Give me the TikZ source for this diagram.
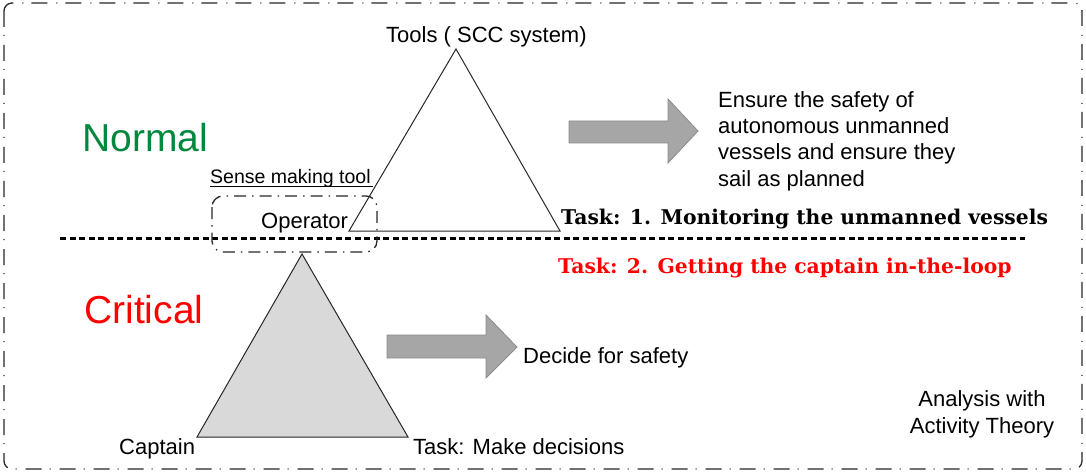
\documentclass[tikz,border=0pt]{standalone}
\usepackage{fontspec}
\setsansfont{Liberation Sans}
\newfontfamily\taskfont{DejaVu Serif}
\definecolor{normalgreen}{RGB}{0,136,62}
\definecolor{arrowfill}{RGB}{166,166,166}
\definecolor{arrowdraw}{RGB}{140,140,140}
\definecolor{trifill}{RGB}{217,217,217}
\tikzset{
  lbl/.style={inner sep=0pt, anchor=base west, font=\sffamily\fontsize{22}{26.4}\selectfont},
  bigword/.style={inner sep=0pt, anchor=base west, font=\sffamily\fontsize{39}{46}\selectfont},
  tasktxt/.style={inner sep=0pt, anchor=base west, font=\taskfont\bfseries\fontsize{20.3}{24}\selectfont},
  blockarrow/.style={fill=arrowfill, draw=arrowdraw, line width=0.8pt},
  tri/.style={draw=black!85, line width=1pt, line join=miter},
  frame/.style={draw=black!85, line width=1.3pt, dash pattern=on 16pt off 8pt on 1pt off 9pt, rounded corners=8pt},
  opbox/.style={draw=black!85, line width=1.3pt, dash pattern=on 12pt off 6pt on 1.5pt off 6pt, rounded corners=11pt},
  sepline/.style={draw=black, line width=3pt, dash pattern=on 6pt off 3.5pt}
}
\begin{document}
\begin{tikzpicture}[x=1pt, y=-1pt]
\useasboundingbox (0,0) rectangle (1086,473);
% outer frame
\coordinate (fTL) at (4,3);
\coordinate (fBR) at (1082,469);
\draw[frame] (fTL) rectangle (fBR);
% separator
\coordinate (sL) at (60,238);
\coordinate (sR) at (1025,238);
\draw[sepline] (sL) -- (sR);
% operator box
\coordinate (oTL) at (212,196);
\coordinate (oBR) at (377,252);
\draw[opbox] (oTL) rectangle (oBR);
% upper triangle
\coordinate (uA) at (456,49);
\coordinate (uL) at (349,231);
\coordinate (uR) at (560,231);
\draw[tri] (uA) -- (uL) -- (uR) -- cycle;
% lower triangle
\coordinate (lA) at (302,254);
\coordinate (lL) at (197,437);
\coordinate (lR) at (408,437);
\draw[tri, fill=trifill] (lA) -- (lL) -- (lR) -- cycle;
% arrows
\draw[blockarrow] (569,121) -- (668,121) -- (668,99) -- (698,131) -- (668,163) -- (668,143) -- (569,143) -- cycle;
\draw[blockarrow] (387,335) -- (486,335) -- (486,315) -- (517,347) -- (486,378) -- (486,358) -- (387,358) -- cycle;
% labels
\node[lbl] (tools) at (386,43) {Tools ( SCC system)};
\node[lbl, font=\sffamily\fontsize{19.5}{23}\selectfont] (smt) at (210,183) {Sense making tool};
\coordinate (uS) at (210,186.5);
\coordinate (uE) at (373,186.5);
\draw[line width=1.2pt] (uS) -- (uE);
\node[lbl] (operator) at (261,228) {Operator};
\node[lbl, anchor=north west, align=left] (ensure) at (718,91) {Ensure the safety of\\autonomous unmanned\\vessels and ensure they\\sail as planned};
\node[tasktxt] (task1) at (561,224) {Task: 1. Monitoring the unmanned vessels};
\node[tasktxt, text=red] (task2) at (558,273) {Task: 2. Getting the captain in-the-loop};
\node[bigword, text=normalgreen] (normal) at (82,152) {Normal};
\node[bigword, text=red] (critical) at (84,323) {Critical};
\node[lbl] (decide) at (523,363) {Decide for safety};
\node[lbl] (captain) at (119,454) {Captain};
\node[lbl] (taskmake) at (413,454) {Task: Make decisions};
\node[lbl, anchor=base, align=center] (analysis) at (982,433) {Analysis with\\Activity Theory};
\end{tikzpicture}
\end{document}
